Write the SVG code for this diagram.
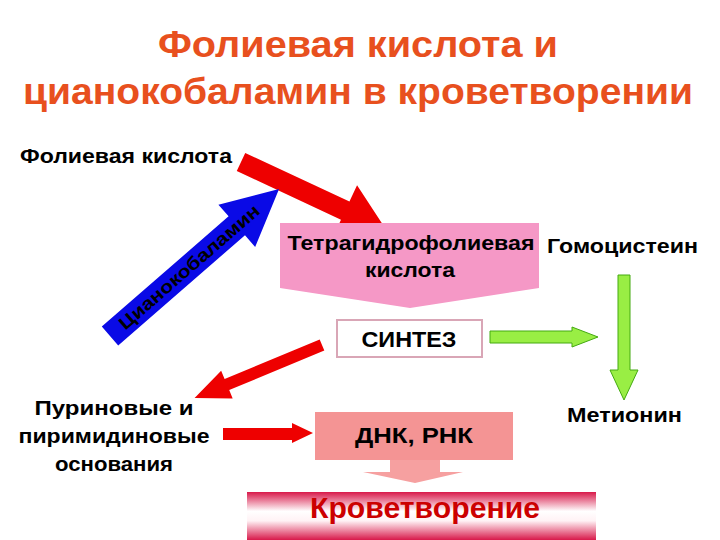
<svg xmlns="http://www.w3.org/2000/svg" width="720" height="540" viewBox="0 0 720 540">
<style>
text{font-family:"Liberation Sans",Arial,sans-serif;font-weight:bold;fill:#000}
.title{font-size:37px;fill:#e8501e}
.lbl{font-size:20px}
.red{fill:#ee0000}
.green{fill:#99ee44;stroke:#44aa11;stroke-width:1}
</style>
<defs>
<linearGradient id="bar" x1="0" y1="0" x2="0" y2="1">
<stop offset="0" stop-color="#d8194a"/>
<stop offset="0.4" stop-color="#ffffff"/>
<stop offset="0.6" stop-color="#fff2f5"/>
<stop offset="1" stop-color="#d8194a"/>
</linearGradient>
</defs>
<rect width="720" height="540" fill="#fff"/>
<g id="title">
<text class="title" x="358" y="57" text-anchor="middle" textLength="400" lengthAdjust="spacingAndGlyphs">Фолиевая кислота и</text>
<text class="title" x="358" y="104" text-anchor="middle" textLength="670" lengthAdjust="spacingAndGlyphs">цианокобаламин в кроветворении</text>
</g>
<g id="connectors">
<polygon class="red" transform="translate(241,162) rotate(25)" points="0,-10 115,-10 115,-28 160,0 115,28 115,10 0,10"/>
<g transform="translate(110,336) rotate(-41)">
<polygon fill="#0a0ae6" points="0,-12.5 168,-12.5 168,-28 224,0 168,28 168,12.5 0,12.5"/>
<text x="105" y="6" text-anchor="middle" font-size="18" textLength="180" lengthAdjust="spacingAndGlyphs">Цианокобаламин</text>
</g>
<polygon class="red" transform="translate(322,345) rotate(157.4)" points="0,-6 103,-6 103,-15 138,0 103,15 103,6 0,6"/>
<polygon class="green" points="490,331 572,331 572,327 598,337 572,347 572,343 490,343"/>
<polygon class="green" points="618,275 630,275 630,370 638,370 624,400 610,370 618,370"/>
<polygon class="red" points="223,428 292,428 292,423 313,433 292,443 292,440 223,440"/>
<polygon fill="#f6a0a0" points="390,460 440,460 440,472 463,472 415,483 363,472 390,472"/>
</g>
<g id="folic">
<text class="lbl" x="20" y="163" textLength="212" lengthAdjust="spacingAndGlyphs">Фолиевая кислота</text>
</g>
<g id="thf">
<polygon fill="#f598c6" points="280,223 539,223 539,288 410,308 280,288"/>
<text class="lbl" x="411" y="250" text-anchor="middle" textLength="247" lengthAdjust="spacingAndGlyphs">Тетрагидрофолиевая</text>
<text class="lbl" x="410" y="277" text-anchor="middle" textLength="90" lengthAdjust="spacingAndGlyphs">кислота</text>
</g>
<g id="homocysteine">
<text class="lbl" x="547" y="253" textLength="151" lengthAdjust="spacingAndGlyphs">Гомоцистеин</text>
</g>
<g id="synthesis">
<rect x="337" y="320" width="145" height="37" fill="#fff" stroke="#d9a6b6" stroke-width="2"/>
<text x="409" y="347" text-anchor="middle" font-size="22" textLength="95" lengthAdjust="spacingAndGlyphs">СИНТЕЗ</text>
</g>
<g id="methionine">
<text class="lbl" x="567" y="422" textLength="115" lengthAdjust="spacingAndGlyphs">Метионин</text>
</g>
<g id="bases">
<text class="lbl" x="114" y="415" text-anchor="middle" textLength="159" lengthAdjust="spacingAndGlyphs">Пуриновые и</text>
<text class="lbl" x="114" y="443" text-anchor="middle" textLength="191" lengthAdjust="spacingAndGlyphs">пиримидиновые</text>
<text class="lbl" x="114" y="471" text-anchor="middle" textLength="118" lengthAdjust="spacingAndGlyphs">основания</text>
</g>
<g id="dna">
<rect x="315" y="412" width="198" height="48" fill="#f49494"/>
<text x="414" y="443" text-anchor="middle" font-size="22" textLength="118" lengthAdjust="spacingAndGlyphs">ДНК, РНК</text>
</g>
<g id="hematopoiesis">
<rect x="247" y="492" width="349" height="48" fill="url(#bar)"/>
<text x="425" y="518" text-anchor="middle" font-size="30" style="fill:#cc0000" textLength="230" lengthAdjust="spacingAndGlyphs">Кроветворение</text>
</g>
</svg>
